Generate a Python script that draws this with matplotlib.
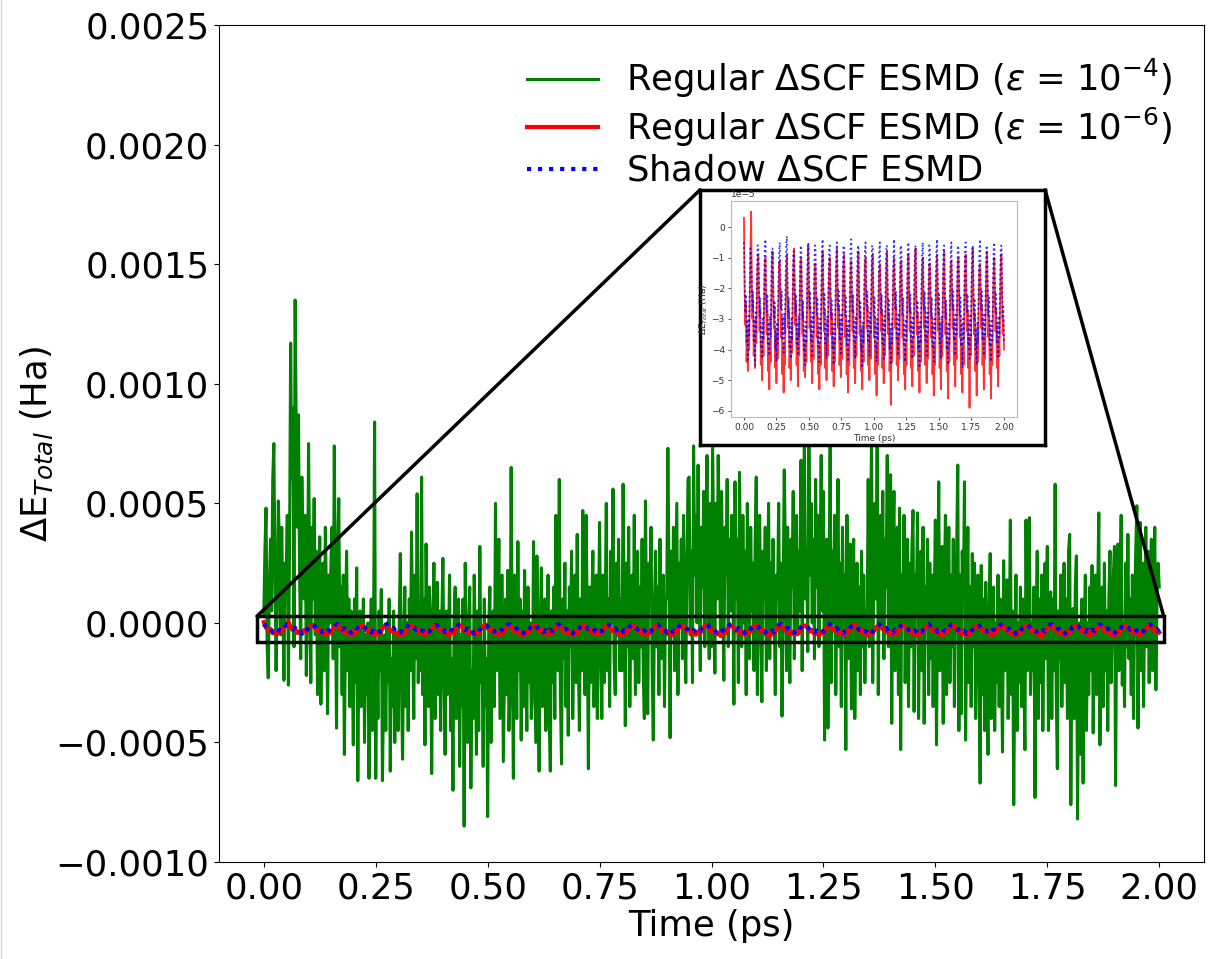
import numpy as np
import matplotlib.pyplot as plt
from matplotlib.patches import Rectangle, ConnectionPatch

# green: 1e-5 Ha, dt = 0.0025 ps
green = [
    3, 30, 48, -10, -23, 15, 35, 5, 60, 75, 20, -20, 10, 51, 30, -5, 40, 10, -24, 25,
    20, 45, -26, 30, 117, 60, 90, -10, 135, 80, 40, 87, 20, -15, 61, 30, 10, 45, -22, 5,
    75, 20, -25, 40, 10, 52, -5, 30, -30, 15, 36, -34, 5, 25, -20, 40, 10, -38, 20, 0,
    25, 40, -15, 74, 10, -44, 30, 52, -10, 15, -30, 20, -55, 0, 30, -20, 10, -35, 5, -15,
    -51, 10, -25, 23, -66, -10, 5, -35, -20, 10, -50, -5, -30, 0, -65, -20, 10, -45, -15, 84,
    -65, -10, -40, 5, -20, 14, -66, -30, -5, -45, 0, -25, 10, -62, -15, -35, 5, -50, -20, -5,
    -45, 0, 29, -25, -57, -10, 15, -35, 0, -45, 10, -20, 38, -5, -40, 20, -15, 54, -25, 5,
    -20, 61, -30, 10, -51, 33, -10, -35, 15, -5, -63, 0, 25, -40, -15, 17, -30, 5, -45, 0,
    27, -20, -55, 5, -30, -10, 20, -45, -15, -70, 0, 15, -40, -20, 10, -60, -5, -35, 10, -85,
    25, -30, -50, 0, 15, -69, -20, -40, 20, -10, -55, 5, -45, 32, -25, -10, -60, 10, -35, -15,
    -81, 0, 15, -50, -25, 5, -35, 50, -20, -5, 35, -40, -10, 20, -58, -25, 10, -30, 22, -45,
    -30, 65, -10, -65, 20, 0, -40, 34, -20, 10, -49, 5, -35, 22, -15, -45, 15, -25, 0, -40,
    -30, 34, -10, -50, 28, -20, -62, 0, 23, -35, -15, 10, -45, -5, 20, -40, -62, 5, -25, 15,
    -40, 45, 0, -20, 60, -30, -59, 10, -15, 25, -35, 5, -47, 15, -10, 30, -40, -5, 20, -25,
    37, -15, -45, 10, -20, 47, -5, -30, 45, 0, -61, 15, -25, 5, 30, -35, -10, 20, -40, 0,
    42, -10, -40, 20, -25, 5, 50, -20, 10, -35, 30, 0, 56, -15, -30, 25, -5, 35, -20, 10,
    -20, 58, 10, -43, 25, -10, 40, -35, 5, 20, -15, 45, -30, 0, 30, -25, 15, -10, 35, -20,
    -40, 51, -5, -38, 25, 10, 40, -20, -49, 5, 30, -10, 15, -30, 35, -15, 0, 20, -35, 10,
    10, 73, 20, -48, 30, -5, 40, -20, 15, 50, -30, 25, 0, 35, -15, 45, 5, -25, 20, 60,
    61, -5, 30, -25, 74, 20, 45, 0, 66, 10, -20, 40, 15, 55, -10, 35, 70, 5, -15, 50,
    -10, 74, 25, -21, 50, 10, 70, 30, -5, 55, 15, -24, 40, 20, 60, -10, 35, 5, 45, 20,
    -34, 59, 10, 35, -25, 63, 20, -10, 45, 0, 30, -30, 50, 15, -15, 40, 5, 25, -20, 35,
    61, -30, 20, 45, 0, -33, 30, 10, 40, -20, 15, 50, -15, 25, -5, 35, 5, -30, 20, 10,
    50, -10, 25, -39, 10, 64, 30, -20, 40, 0, -25, 35, 15, 55, -15, 20, 45, -5, 30, 5,
    68, -20, 40, 78, 10, 30, -12, 76, 20, 50, 0, 35, -15, 60, 15, 45, -10, 25, 70, 5,
    55, -49, 20, 35, -44, 10, 78, -25, 30, 0, 45, -30, 15, 60, -10, 25, -35, 40, 5, 20,
    -53, 45, -15, 20, 33, -36, 10, 35, -40, 0, 25, -20, 15, -30, 30, -10, 20, -25, 5, -5,
    60, -10, 30, 78, -25, 20, 50, 10, 78, -30, 25, 45, 0, 55, -15, 35, 15, 70, -10, 40,
    62, -42, 30, 55, -20, 10, 40, -30, 48, -53, 20, 0, 45, -25, 15, 35, -35, 25, -10, 30,
    47, -37, 20, 5, 46, -40, 10, 30, -20, 40, -42, 15, 0, 35, -30, 25, -15, 20, -35, 10,
    43, -51, 10, 59, -20, 25, 32, -42, 15, 45, -30, 0, 40, -25, 20, -10, 35, -35, 5, 30,
    66, -45, 20, -38, 30, 10, 59, -49, 0, 40, -25, 15, -35, 29, -10, 25, -40, 5, 20, -20,
    -67, 24, -30, 10, -45, 17, -20, -55, 5, 29, -40, -10, 15, -45, 0, -25, 20, -35, 10, -15,
    -54, 26, -20, 0, 18, -40, -10, 43, -30, 5, -76, -15, 20, -45, 0, -25, 15, -35, 10, -20,
    -53, 43, -20, 10, 44, -30, 0, -20, 15, -73, -5, 30, -40, 10, -25, 20, -45, 0, 25, -15,
    32, -45, 0, 13, -40, 10, -20, 58, -30, -61, 5, -15, 20, -35, 0, 25, -25, 10, -40, 30,
    37, -76, -10, 6, -40, 15, 28, -82, -20, 0, -55, 10, -67, -5, 20, -45, 0, -30, 15, -20,
    24, -46, 0, 20, -30, 10, 46, -51, -10, 15, -35, 25, -20, 5, -45, 10, 30, -25, 0, 20,
    32, -68, 5, 33, -20, 15, 45, -26, 0, -35, 25, -10, 37, -15, 10, -30, 20, -40, 5, 30,
    49, -44, 10, 42, -20, 25, -35, 5, 40, -10, 30, -25, 15, 35, -20, 0, 40, -28, 10, 25,
    15,
]

# red / blue: 1e-6 Ha, dt = 0.005 ps
red = [
    3, -20, -32, -25, -44, -36, -47, -33, -40, -22, -8,
    5, -18, -30, -24, -42, -35, -46, -30, -38, -20, -12,
    -9, -22, -34, -27, -45, -38, -50, -36, -42, -25, -14,
    -10, -24, -35, -28, -47, -39, -53, -37, -44, -26, -13,
    -8, -21, -33, -26, -46, -37, -51, -35, -43, -24, -12,
    -11, -23, -36, -29, -48, -40, -54, -38, -45, -27, -15,
    -9, -22, -33, -27, -46, -38, -50, -36, -41, -25, -13,
    -7, -20, -32, -25, -45, -36, -52, -34, -42, -23, -11,
    -10, -24, -35, -28, -47, -39, -49, -37, -44, -26, -14,
    -6, -21, -33, -26, -44, -37, -51, -35, -43, -24, -12,
    -12, -25, -36, -29, -48, -40, -53, -38, -45, -27, -15,
    -8, -22, -34, -27, -46, -38, -50, -36, -42, -25, -13,
    -10, -23, -35, -28, -47, -39, -52, -37, -44, -26, -14,
    -7, -21, -33, -26, -45, -37, -49, -35, -43, -24, -12,
    -9, -24, -36, -29, -48, -40, -54, -38, -45, -27, -15,
    -11, -22, -34, -27, -46, -38, -51, -36, -42, -25, -13,
    -8, -23, -35, -28, -47, -39, -53, -37, -44, -26, -14,
    -10, -21, -33, -26, -45, -37, -50, -35, -43, -24, -12,
    -9, -25, -36, -29, -48, -40, -55, -38, -45, -27, -15,
    -12, -22, -34, -27, -46, -38, -51, -36, -42, -25, -13,
    -8, -23, -35, -28, -47, -39, -58, -37, -44, -26, -14,
    -10, -21, -33, -26, -45, -37, -50, -35, -43, -24, -12,
    -11, -24, -36, -29, -48, -40, -53, -38, -45, -27, -15,
    -9, -22, -34, -27, -46, -38, -52, -36, -42, -25, -13,
    -7, -23, -35, -28, -47, -39, -54, -37, -44, -26, -14,
    -10, -21, -33, -26, -45, -37, -51, -35, -43, -24, -12,
    -12, -25, -36, -29, -48, -40, -55, -38, -45, -27, -15,
    -9, -22, -34, -27, -46, -38, -53, -36, -42, -25, -13,
    -8, -23, -35, -28, -47, -39, -56, -37, -44, -26, -14,
    -11, -21, -33, -26, -45, -37, -52, -35, -43, -24, -12,
    -10, -24, -36, -29, -48, -40, -54, -38, -45, -27, -15,
    -9, -22, -34, -27, -46, -38, -59, -36, -42, -25, -13,
    -7, -23, -35, -28, -47, -39, -55, -37, -44, -26, -14,
    -12, -21, -33, -26, -45, -37, -53, -35, -43, -24, -12,
    -8, -24, -36, -29, -48, -40, -56, -38, -45, -27, -15,
    -10, -22, -34, -27, -46, -38, -52, -36, -42, -25, -13,
    -9, -23, -35, -30, -40,
]

blue = [
    -5, -17, -28, -22, -38, -31, -44, -29, -36, -18, -7,
    -10, -16, -27, -21, -37, -30, -45, -28, -35, -17, -6,
    -6, -18, -29, -23, -39, -32, -43, -30, -37, -19, -8,
    -4, -17, -28, -22, -38, -31, -42, -29, -36, -18, -7,
    -7, -19, -30, -24, -40, -33, -44, -31, -38, -20, -9,
    -5, -16, -27, -21, -37, -30, -41, -28, -35, -17, -6,
    -3, -18, -29, -23, -39, -32, -43, -30, -37, -19, -8,
    -8, -17, -28, -22, -38, -31, -42, -29, -36, -18, -7,
    -6, -19, -30, -24, -40, -33, -45, -31, -38, -20, -9,
    -5, -16, -27, -21, -37, -30, -42, -28, -35, -17, -6,
    -7, -18, -29, -23, -39, -32, -44, -30, -37, -19, -8,
    -4, -17, -28, -22, -38, -31, -43, -29, -36, -18, -7,
    -6, -19, -30, -24, -40, -33, -45, -31, -38, -20, -9,
    -5, -16, -27, -21, -37, -30, -42, -28, -35, -17, -6,
    -7, -18, -29, -23, -39, -32, -44, -30, -37, -19, -8,
    -4, -17, -28, -22, -38, -31, -43, -29, -36, -18, -7,
    -6, -19, -30, -24, -40, -33, -46, -31, -38, -20, -9,
    -5, -16, -27, -21, -37, -30, -42, -28, -35, -17, -6,
    -7, -18, -29, -23, -39, -32, -44, -30, -37, -19, -8,
    -5, -17, -28, -22, -38, -31, -43, -29, -36, -18, -7,
    -6, -19, -30, -24, -40, -33, -45, -31, -38, -20, -9,
    -4, -16, -27, -21, -37, -30, -42, -28, -35, -17, -6,
    -7, -18, -29, -23, -39, -32, -44, -30, -37, -19, -8,
    -5, -17, -28, -22, -38, -31, -43, -29, -36, -18, -7,
    -6, -19, -30, -24, -40, -33, -46, -31, -38, -20, -9,
    -5, -16, -27, -21, -37, -30, -42, -28, -35, -17, -6,
    -7, -18, -29, -23, -39, -32, -44, -30, -37, -19, -8,
    -4, -17, -28, -22, -38, -31, -43, -29, -36, -18, -7,
    -6, -19, -30, -24, -40, -33, -45, -31, -38, -20, -9,
    -5, -16, -27, -21, -37, -30, -42, -28, -35, -17, -6,
    -7, -18, -29, -23, -39, -32, -46, -30, -37, -19, -8,
    -5, -17, -28, -22, -38, -31, -43, -29, -36, -18, -7,
    -6, -19, -30, -24, -40, -33, -45, -31, -38, -20, -9,
    -4, -16, -27, -21, -37, -30, -42, -28, -35, -17, -6,
    -7, -18, -29, -23, -39, -32, -44, -30, -37, -19, -8,
    -5, -17, -28, -22, -38, -31, -43, -29, -36, -18, -7,
    -6, -19, -30, -26, -38,
]

labels = [
    r'Regular $\Delta$SCF ESMD ($\varepsilon$ = $10^{-4}$)',
    r'Regular $\Delta$SCF ESMD ($\varepsilon$ = $10^{-6}$)',
    r'Shadow $\Delta$SCF ESMD',
]

t_green = np.arange(len(green)) * 0.0025
t_rb = np.arange(len(red)) * 0.005
e_green = np.array(green) * 1e-5
e_red = np.array(red) * 1e-6
e_blue = np.array(blue) * 1e-6

fs = 25.5
fig = plt.figure(figsize=(12.12, 9.59), dpi=100)
ax = fig.add_axes([0.1807, 0.1011, 0.8127, 0.8728])
ax.plot(t_green, e_green, color='green', lw=2.2, label=labels[0])
ax.plot(t_rb, e_red, color='red', lw=3, label=labels[1])
ax.plot(t_rb, e_blue, color='blue', ls=':', lw=3, label=labels[2])
ax.set_ylim(-0.001, 0.0025)
ax.tick_params(labelsize=fs)
ax.set_xlabel('Time (ps)', fontsize=fs, labelpad=2)
ax.set_ylabel(r'$\Delta$E$_{Total}$ (Ha)', fontsize=fs, labelpad=0)
ax.legend(loc='upper right', frameon=False, fontsize=fs, handlelength=2.0,
          labelspacing=0.15)

# zoomed region marker
x0, x1, y0, y1 = -0.015, 2.01, -7.8e-5, 2.8e-5
ax.add_patch(Rectangle((x0, y0), x1 - x0, y1 - y0, fill=False,
                       ec='black', lw=2.5, zorder=5))

# inset frame
box = fig.add_axes([0.5776, 0.536, 0.2847, 0.266])
box.set_xticks([])
box.set_yticks([])
for s in box.spines.values():
    s.set_linewidth(2.5)
    s.set_color('black')

for xa, xb in [(x0, 0), (x1, 1)]:
    con = ConnectionPatch(xyA=(xa, y1), coordsA=ax.transData,
                          xyB=(xb, 1), coordsB=box.transAxes,
                          color='black', lw=2.5)
    fig.add_artist(con)

# inner zoomed plot
ins = fig.add_axes([0.6031, 0.5652, 0.236, 0.2252])
ins.plot(t_rb, e_red, color='red', lw=1.3, alpha=0.8)
ins.plot(t_rb, e_blue, color='blue', ls=':', lw=1.3, alpha=0.8)
ins.set_ylim(-6.2e-5, 0.85e-5)
ins.tick_params(labelsize=6.5, colors='#333333', length=2.5, width=0.6, pad=2)
ins.yaxis.get_offset_text().set_fontsize(6.5)
ins.yaxis.get_offset_text().set_color('#333333')
ins.set_xlabel('Time (ps)', fontsize=6.5, color='#333333', labelpad=1)
ins.set_ylabel(r'$\Delta$E$_{Total}$ (Ha)', fontsize=6.5, color='#333333', labelpad=1)
for s in ins.spines.values():
    s.set_color('#bbbbbb')
    s.set_linewidth(0.8)

fig.add_artist(plt.Line2D([0.001, 0.001], [0, 1], color='#d8d8d8', lw=1))

fig.savefig('out.png', dpi=100)
